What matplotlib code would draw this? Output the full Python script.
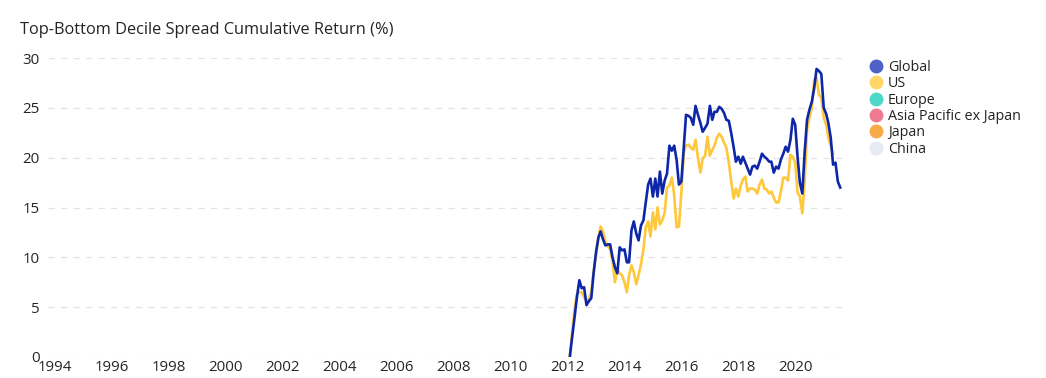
import numpy as np
import pandas as pd
import matplotlib
matplotlib.use("Agg")
import matplotlib.pyplot as plt
import matplotlib.dates as mdates
from matplotlib.lines import Line2D

plt.rcParams['font.family'] = ['Open Sans', 'DejaVu Sans']

# monthly cumulative spread, Feb 2012 onwards
months = pd.date_range('2012-02-01', periods=115, freq='MS')

global_ret = [0.1, 2.0, 4.0, 6.0, 7.7, 6.9, 7.0, 5.2, 5.6, 5.9,
              8.4, 10.5, 12.0, 12.6, 11.8, 11.2, 11.3, 11.3, 10.0, 9.0,
              8.4, 11.0, 10.7, 10.8, 9.5, 9.5, 12.7, 13.6, 12.4, 11.7,
              13.2, 13.7, 15.5, 17.3, 17.9, 16.1, 17.9, 16.1, 18.6, 16.4,
              17.7, 18.4, 21.2, 20.7, 21.2, 19.8, 17.3, 17.6, 21.0, 24.3,
              24.2, 24.0, 23.3, 25.2, 24.3, 23.5, 22.6, 23.0, 23.4, 25.2,
              23.8, 24.6, 24.6, 25.1, 24.9, 24.5, 23.8, 23.7, 22.5, 21.1,
              19.6, 20.1, 19.4, 20.1, 19.5, 18.9, 18.3, 19.1, 19.2, 18.9,
              19.6, 20.4, 20.1, 19.9, 19.6, 19.6, 18.5, 19.1, 18.9, 19.8,
              20.4, 21.1, 20.6, 21.8, 23.9, 23.3, 20.0, 17.5, 16.4, 20.5,
              23.8, 24.8, 25.6, 27.0, 28.9, 28.7, 28.4, 25.0, 24.4, 23.5,
              22.0, 19.3, 19.5, 17.6, 17.0]

us_ret = [0.1, 2.5, 4.8, 6.3, 6.5, 6.5, 6.0, 5.6, 5.8, 6.5,
          8.6, 10.2, 12.0, 13.1, 12.6, 11.6, 11.1, 10.8, 9.6, 7.5,
          8.9, 8.4, 8.2, 7.5, 6.5, 8.2, 9.2, 8.5, 7.3, 8.2,
          9.3, 10.8, 13.0, 13.6, 12.1, 14.5, 12.8, 15.0, 13.3, 13.7,
          14.5, 17.0, 17.2, 18.0, 16.3, 13.0, 13.1, 16.5, 20.5, 21.2,
          21.3, 21.0, 20.8, 21.8, 20.0, 18.5, 19.9, 20.2, 22.1, 20.2,
          20.8, 21.2, 22.0, 22.4, 22.1, 21.5, 21.0, 19.5, 17.7, 15.9,
          16.9, 16.1, 17.2, 17.8, 18.1, 16.6, 16.9, 16.9, 16.8, 16.4,
          17.3, 17.8, 16.9, 16.8, 16.4, 16.6, 16.0, 15.5, 15.5, 16.6,
          18.0, 18.0, 17.7, 20.3, 20.1, 19.5, 16.5, 16.1, 14.4, 17.5,
          22.8, 24.0, 25.0, 27.8, 28.0, 26.3, 26.0, 24.0, 23.3, 22.0,
          21.2, 20.4, np.nan, np.nan, np.nan]

regions = ['Global', 'US', 'Europe', 'Asia Pacific ex Japan', 'Japan', 'China']
legend_colors = ['#4E61C6', '#FFD766', '#4DD8C8', '#EE7A90', '#F7AB48', '#E6EAF2']

fig = plt.figure(figsize=(10.46, 3.78), dpi=100)
ax = fig.add_axes([48/1046, 1 - 357/378, (845 - 48)/1046, (357 - 58)/378])

ax.plot(months, us_ret, color='#FFC83A', lw=1.9, zorder=3)
ax.plot(months, global_ret, color='#0E27A8', lw=1.9, zorder=4)

ax.set_ylim(0, 30)
ax.set_yticks(range(0, 31, 5))
ax.set_xlim(pd.Timestamp('1993-10-01'), pd.Timestamp('2021-10-01'))
ax.xaxis.set_major_locator(mdates.YearLocator(2))
ax.xaxis.set_major_formatter(mdates.DateFormatter('%Y'))

ax.grid(axis='y', color='#E3E3E3', linestyle=(0, (5, 5)), lw=0.9)
ax.set_axisbelow(True)
for s in ax.spines.values():
    s.set_visible(False)
ax.tick_params(length=0, labelsize=10.8, colors='#252423')
ax.tick_params(axis='y', pad=6)
ax.tick_params(axis='x', pad=2.5)

fig.text(20/1046, 1 - 30/378, 'Top-Bottom Decile Spread Cumulative Return (%)',
         fontsize=11.8, color='#252423', va='center')

handles = [Line2D([], [], marker='o', ls='none', markersize=9, color=c) for c in legend_colors]
fig.legend(handles, regions, loc='upper left', bbox_to_anchor=(860/1046, 1 - 54/378),
           frameon=False, fontsize=10.3, handletextpad=0.05, labelspacing=0.1,
           handlelength=1.5, borderaxespad=0, labelcolor='#252423')

fig.savefig('out.png', dpi=100)
